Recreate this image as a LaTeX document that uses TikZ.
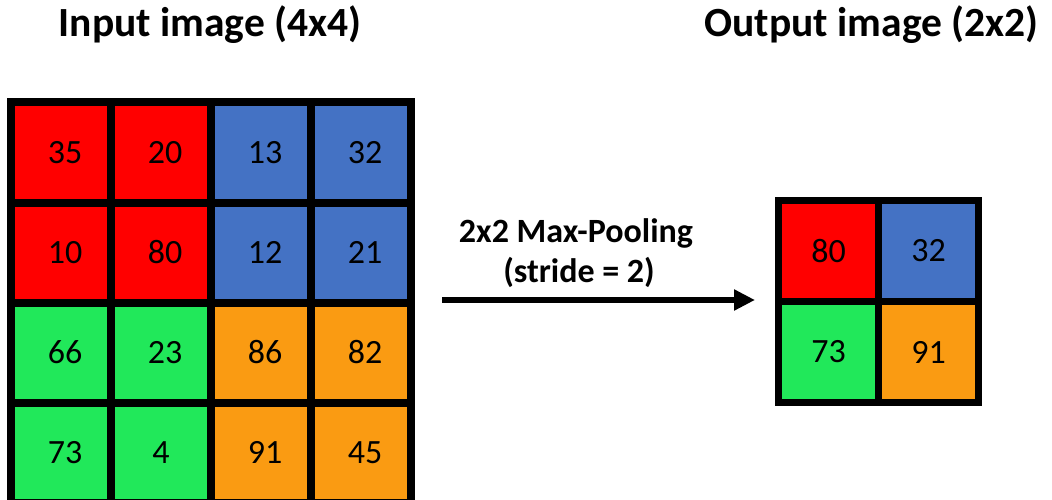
\documentclass[tikz,border=0pt]{standalone}
\usepackage{fontspec}
\setmainfont{Carlito}
\usetikzlibrary{arrows.meta}

\definecolor{poolred}{HTML}{FF0000}
\definecolor{poolblue}{HTML}{4472C4}
\definecolor{poolgreen}{HTML}{21E85A}
\definecolor{poolorange}{HTML}{FA9B12}

% values in the input grid sit a little right of centre
\newcommand{\cellval}[1]{\hspace*{8pt}#1}

\tikzset{
  cell/.style={rectangle, draw=black, line width=8pt, line join=miter,
    minimum width=100pt, minimum height=100pt, inner sep=0pt,
    font=\fontsize{34}{40}\selectfont},
  outcell/.style={cell, line width=7.5pt, minimum height=101pt},
  heading/.style={anchor=base, font=\bfseries\fontsize{41.5}{48}\selectfont},
  oplabel/.style={anchor=base, font=\bfseries\fontsize{34}{40}\selectfont},
}

\begin{document}
\begin{tikzpicture}[x=1pt, y=-1pt]
  \useasboundingbox (0,0) rectangle (1052,500);
  \clip (0,0) rectangle (1052,500);

  % headings
  \node[heading] (tin)  at (210,37) {Input image (4x4)};
  \node[heading] (tout) at (871.5,37) {Output image (2x2)};

  % 4x4 input grid
  \node[cell, fill=poolred]    (i11) at (61,152.5) {\cellval{35}};
  \node[cell, fill=poolred]    (i12) at (161,152.5) {\cellval{20}};
  \node[cell, fill=poolblue]   (i13) at (261,152.5) {\cellval{13}};
  \node[cell, fill=poolblue]   (i14) at (361,152.5) {\cellval{32}};
  \node[cell, fill=poolred]    (i21) at (61,252.5) {\cellval{10}};
  \node[cell, fill=poolred]    (i22) at (161,252.5) {\cellval{80}};
  \node[cell, fill=poolblue]   (i23) at (261,252.5) {\cellval{12}};
  \node[cell, fill=poolblue]   (i24) at (361,252.5) {\cellval{21}};
  \node[cell, fill=poolgreen]  (i31) at (61,352.5) {\cellval{66}};
  \node[cell, fill=poolgreen]  (i32) at (161,352.5) {\cellval{23}};
  \node[cell, fill=poolorange] (i33) at (261,352.5) {\cellval{86}};
  \node[cell, fill=poolorange] (i34) at (361,352.5) {\cellval{82}};
  \node[cell, fill=poolgreen]  (i41) at (61,452.5) {\cellval{73}};
  \node[cell, fill=poolgreen]  (i42) at (161,452.5) {4};
  \node[cell, fill=poolorange] (i43) at (261,452.5) {\cellval{91}};
  \node[cell, fill=poolorange] (i44) at (361,452.5) {\cellval{45}};

  % 2x2 output grid
  \node[outcell, fill=poolred]    (o11) at (828.5,251) {80};
  \node[outcell, fill=poolblue]   (o12) at (928.5,251) {32};
  \node[outcell, fill=poolgreen]  (o21) at (828.5,352) {73};
  \node[outcell, fill=poolorange] (o22) at (928.5,352) {91};

  % pooling operation
  \coordinate (astart) at (442,300);
  \coordinate (aend) at (755,300);
  \draw[line width=6.5pt, -{Triangle[length=21pt,width=20pt]}] (astart) -- (aend);
  \node[oplabel] (op1) at (576,242) {2x2 Max-Pooling};
  \node[oplabel] (op2) at (579,282) {(stride = 2)};
\end{tikzpicture}
\end{document}
